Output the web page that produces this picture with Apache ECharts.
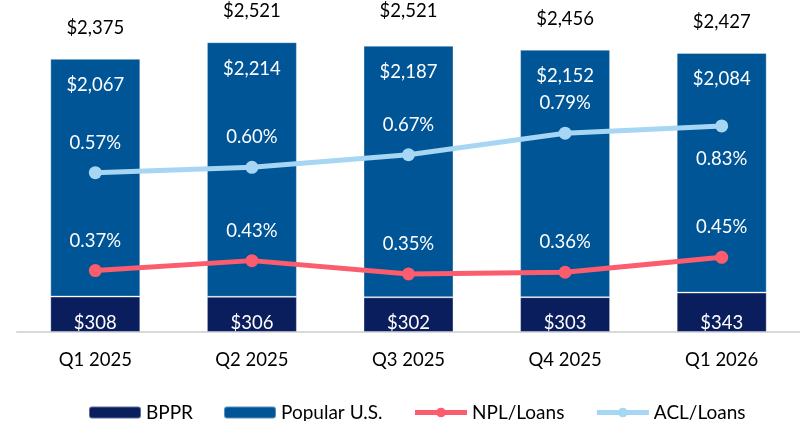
<!DOCTYPE html>
<html><head><meta charset="utf-8">
<script src="https://cdn.jsdelivr.net/npm/echarts@6/dist/echarts.min.js"></script>
<style>html,body{margin:0;padding:0;background:#fff}#c{width:800px;height:421px}</style>
</head><body><div id="c"></div>
<script>
const categories = ['Q1 2025','Q2 2025','Q3 2025','Q4 2025','Q1 2026'];
const bppr = [308, 306, 302, 303, 343];
const popularUS = [2067, 2214, 2187, 2152, 2084];
const totals = [2375, 2521, 2521, 2456, 2427];
const nplLoans = [0.37, 0.43, 0.35, 0.36, 0.45];
const aclLoans = [0.57, 0.60, 0.67, 0.79, 0.83];

const FONT = 'Lato';
const fmtMoney = v => '$' + v.toLocaleString('en-US');
const chart = echarts.init(document.getElementById('c'), null, {renderer:'canvas'});
chart.setOption({
  animation: false,
  textStyle: {fontFamily: FONT},
  grid: {left: 17, right: 0, top: 10, bottom: 89},
  legend: {
    data: [
      {name: 'BPPR'},
      {name: 'Popular U.S.'},
      {name: 'NPL/Loans', lineStyle: {width: 5}, itemStyle: {borderWidth: 0}},
      {name: 'ACL/Loans', lineStyle: {width: 5}, itemStyle: {borderWidth: 0}}
    ],
    top: 398, left: 83,
    itemWidth: 52, itemHeight: 12, itemGap: 30,
    textStyle: {fontFamily: FONT, fontSize: 19, color: '#000'}
  },
  xAxis: {
    type: 'category', data: categories,
    axisLine: {lineStyle: {color: '#d9d9d9', width: 2}},
    axisTick: {show: false},
    axisLabel: {fontFamily: FONT, fontSize: 18.5, color: '#000', margin: 19}
  },
  yAxis: [
    {type: 'value', min: 0, max: 2800, show: false},
    {type: 'value', min: 0, max: 1.94, show: false},
    {type: 'value', min: -0.316, max: 1.475, show: false}
  ],
  series: [
    {
      name: 'BPPR', type: 'bar', stack: 'loans', data: bppr, barWidth: 90,
      itemStyle: {color: '#0a1d5c', borderColor: 'rgba(255,255,255,0.35)', borderWidth: 1},
      label: {show: true, position: 'insideBottom', distance: -1, color: '#fff',
        fontFamily: FONT, fontSize: 18.5, formatter: p => fmtMoney(p.value)}
    },
    {
      name: 'Popular U.S.', type: 'bar', stack: 'loans', data: popularUS, barWidth: 90,
      itemStyle: {color: '#005596', borderColor: 'rgba(255,255,255,0.35)', borderWidth: 1},
      label: {show: true, position: 'insideTop', distance: 17, color: '#fff',
        fontFamily: FONT, fontSize: 18.5, formatter: p => fmtMoney(p.value)}
    },
    {
      name: 'Total', type: 'line', data: totals, symbol: 'circle', symbolSize: 1,
      itemStyle: {color: 'rgba(0,0,0,0)'}, lineStyle: {width: 0, color: 'rgba(0,0,0,0)'},
      silent: true, z: 1,
      label: {show: true, position: 'top', distance: 21, color: '#000',
        fontFamily: FONT, fontSize: 18.5, formatter: p => fmtMoney(p.value)}
    },
    {
      name: 'NPL/Loans', type: 'line', yAxisIndex: 1, data: nplLoans,
      symbol: 'circle', symbolSize: 13,
      itemStyle: {color: '#fb5c6e'}, lineStyle: {color: '#fb5c6e', width: 5},
      label: {show: true, position: 'top', distance: 14, color: '#fff',
        fontFamily: FONT, fontSize: 18.5, formatter: p => p.value.toFixed(2) + '%'}
    },
    {
      name: 'ACL/Loans', type: 'line', yAxisIndex: 2,
      data: aclLoans.map((v, i) => i === aclLoans.length - 1
        ? {value: v, label: {position: 'bottom', distance: 17}} : v),
      symbol: 'circle', symbolSize: 13,
      itemStyle: {color: '#a6d6f3'}, lineStyle: {color: '#a6d6f3', width: 5},
      label: {show: true, position: 'top', distance: 14, color: '#fff',
        fontFamily: FONT, fontSize: 18.5, formatter: p => p.value.toFixed(2) + '%'}
    }
  ]
});
</script></body></html>
